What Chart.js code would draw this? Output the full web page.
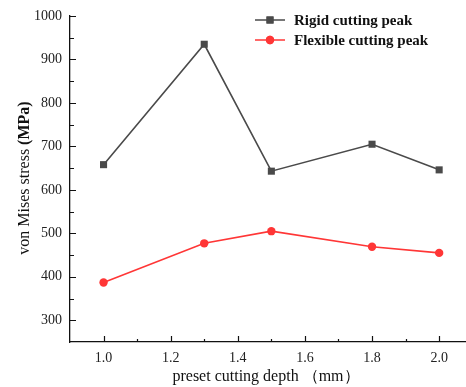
<!DOCTYPE html>
<html>
<head>
<meta charset="utf-8">
<script src="https://cdn.jsdelivr.net/npm/chart.js@4"></script>
<style>
  body { margin: 0; background: #fff; }
  canvas { display: block; }
</style>
</head>
<body>
<canvas id="stressChart" width="466" height="387"></canvas>
<script>
// data
const depths = [1.0, 1.3, 1.5, 1.8, 2.0];
const rigidPeak = [658, 935, 643, 705, 646];
const flexiblePeak = [387, 477, 505, 469, 455];

const xMajorTicks = [1.0, 1.2, 1.4, 1.6, 1.8, 2.0];
const xMinorTicks = [1.1, 1.3, 1.5, 1.7, 1.9];
const yMajorTicks = [300, 400, 500, 600, 700, 800, 900, 1000];
const yMinorTicks = [350, 450, 550, 650, 750, 850, 950];

const seriesNames = ['Rigid cutting peak', 'Flexible cutting peak'];
const xTitle = 'preset cutting depth （mm）';
const yTitleParts = ['von Mises stress ', '(MPa)'];

const SERIF = '"Liberation Serif", "Times New Roman", serif';

// draws inward ticks, axis titles and the legend box
const decorPlugin = {
    id: 'decor',
    afterDraw(chart) {
        const ctx = chart.ctx;
        const x = chart.scales.x, y = chart.scales.y;
        const area = chart.chartArea;
        ctx.save();
        ctx.strokeStyle = '#111';
        ctx.lineWidth = 1.2;
        ctx.beginPath();
        yMajorTicks.forEach(v => { const py = Math.round(y.getPixelForValue(v)) + 0.5; ctx.moveTo(area.left, py); ctx.lineTo(area.left + 6, py); });
        yMinorTicks.forEach(v => { const py = Math.round(y.getPixelForValue(v)) + 0.5; ctx.moveTo(area.left, py); ctx.lineTo(area.left + 4, py); });
        xMajorTicks.forEach(v => { const px = Math.round(x.getPixelForValue(v)) + 0.5; ctx.moveTo(px, area.bottom); ctx.lineTo(px, area.bottom - 6); });
        xMinorTicks.forEach(v => { const px = Math.round(x.getPixelForValue(v)) + 0.5; ctx.moveTo(px, area.bottom); ctx.lineTo(px, area.bottom - 3); });
        ctx.stroke();

        // x title
        ctx.fillStyle = '#111';
        ctx.font = '16px ' + SERIF;
        ctx.textAlign = 'center';
        ctx.textBaseline = 'middle';
        ctx.fillText(xTitle, 266, 377);

        // y title, "(MPa)" in bold
        ctx.translate(25, 178);
        ctx.rotate(-Math.PI / 2);
        ctx.textAlign = 'left';
        ctx.font = '16px ' + SERIF;
        const w1 = ctx.measureText(yTitleParts[0]).width;
        ctx.font = 'bold 16px ' + SERIF;
        const w2 = ctx.measureText(yTitleParts[1]).width;
        const start = -(w1 + w2) / 2;
        ctx.font = '16px ' + SERIF;
        ctx.fillText(yTitleParts[0], start, 0);
        ctx.font = 'bold 16px ' + SERIF;
        ctx.fillText(yTitleParts[1], start + w1, 0);
        ctx.setTransform(1, 0, 0, 1, 0, 0);

        // legend
        const rows = [20, 40];
        chart.data.datasets.forEach((ds, i) => {
            const ly = rows[i];
            ctx.strokeStyle = ds.borderColor;
            ctx.lineWidth = 1.5;
            ctx.beginPath();
            ctx.moveTo(255, ly); ctx.lineTo(285, ly);
            ctx.stroke();
            ctx.fillStyle = ds.backgroundColor;
            Chart.helpers.drawPoint(ctx, { pointStyle: ds.pointStyle, radius: ds.pointRadius, borderWidth: 0 }, 270, ly);
            ctx.fill();
            ctx.fillStyle = '#111';
            ctx.font = 'bold 15px ' + SERIF;
            ctx.textAlign = 'left';
            ctx.textBaseline = 'middle';
            ctx.fillText(ds.label, 294, ly + 1);
        });
        ctx.restore();
    }
};

new Chart(document.getElementById('stressChart').getContext('2d'), {
    type: 'line',
    data: {
        datasets: [
            {
                label: seriesNames[0],
                data: depths.map((d, i) => ({ x: d, y: rigidPeak[i] })),
                borderColor: '#4a4a4a',
                backgroundColor: '#4a4a4a',
                borderWidth: 1.6,
                pointStyle: 'rect',
                pointRadius: 5,
                pointBorderWidth: 0,
                tension: 0
            },
            {
                label: seriesNames[1],
                data: depths.map((d, i) => ({ x: d, y: flexiblePeak[i] })),
                borderColor: '#ff3636',
                backgroundColor: '#ff3636',
                borderWidth: 1.6,
                pointStyle: 'circle',
                pointRadius: 4.2,
                pointBorderWidth: 0,
                tension: 0
            }
        ]
    },
    options: {
        responsive: false,
        animation: false,
        layout: { autoPadding: false, padding: { top: 16, right: 0, left: 0, bottom: 0 } },
        plugins: { legend: { display: false }, tooltip: { enabled: false } },
        scales: {
            x: {
                type: 'linear',
                min: 0.9,
                max: 2.08,
                afterBuildTicks: s => { s.ticks = xMajorTicks.map(v => ({ value: v })); },
                afterFit: s => { s.height = 45; s.paddingLeft = 0; s.paddingRight = 0; },
                grid: { display: false },
                border: { display: true, color: '#111', width: 1.3 },
                ticks: {
                    color: '#222',
                    padding: 0,
                    maxRotation: 0,
                    autoSkip: false,
                    font: { family: SERIF, size: 14 },
                    callback: v => v.toFixed(1)
                }
            },
            y: {
                min: 250,
                max: 1000,
                afterBuildTicks: s => { s.ticks = yMajorTicks.map(v => ({ value: v })); },
                afterFit: s => { s.width = 70; },
                grid: { display: false },
                border: { display: true, color: '#111', width: 1.3 },
                ticks: {
                    color: '#222',
                    padding: 0,
                    font: { family: SERIF, size: 14 },
                    callback: v => String(v)
                }
            }
        }
    },
    plugins: [decorPlugin]
});
</script>
</body>
</html>
